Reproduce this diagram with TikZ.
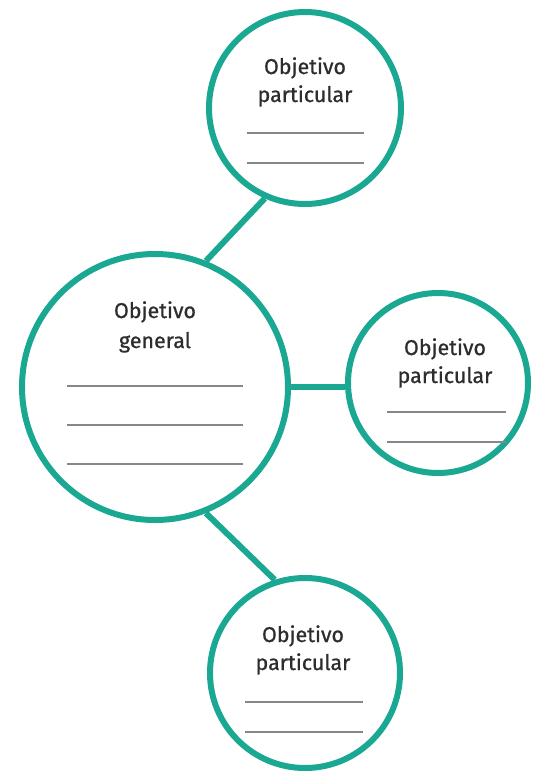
\documentclass[tikz,border=0pt]{standalone}
\usepackage{fontspec}
\setmainfont{Fira Sans}
\newfontfamily\lblfont{Fira Sans}[FakeBold=0.8]
\definecolor{tealc}{RGB}{27,168,146}
\definecolor{txtc}{RGB}{45,45,45}
\definecolor{blankc}{RGB}{135,135,135}
\begin{document}
\begin{tikzpicture}[x=1bp,y=-1bp,
  bubble/.style={circle,draw=tealc,line width=6bp,fill=white,inner sep=0pt},
  link/.style={draw=tealc,line width=6bp},
  lbl/.style={text=txtc,font=\lblfont\fontsize{21.5}{24}\selectfont,anchor=base,inner sep=0pt},
  blankline/.style={draw=blankc,line width=1.6bp}]
\useasboundingbox (0,0) rectangle (534,771);
% circles
\node[bubble,minimum size=266bp] (main) at (155,387) {};
\node[bubble,minimum size=192bp] (top) at (305,108) {};
\node[bubble,minimum size=180bp] (right) at (438,383) {};
\node[bubble,minimum size=190bp] (bottom) at (305,673) {};
% connectors
\draw[link] (main.68) -- (top.246);
\draw[link] (main.east) -- (main.east -| right.west);
\draw[link] (main.292) -- (bottom.108);
% texts
\node[lbl] (topa) at (305,74) {Objetivo};
\node[lbl] (topb) at (305,102) {particular};
\node[lbl] (maina) at (155,318) {Objetivo};
\node[lbl] (mainb) at (155,348) {general};
\node[lbl] (righta) at (445,355) {Objetivo};
\node[lbl] (rightb) at (445,383) {particular};
\node[lbl] (bota) at (303,642) {Objetivo};
\node[lbl] (botb) at (303,670) {particular};
% blank lines
\draw[blankline] (247,133) -- (364,133);
\draw[blankline] (247,163) -- (364,163);
\draw[blankline] (67,386) -- (243,386);
\draw[blankline] (67,425) -- (243,425);
\draw[blankline] (67,464) -- (243,464);
\draw[blankline] (387,412) -- (506,412);
\draw[blankline] (387,442) -- (506,442);
\draw[blankline] (245,702) -- (363,702);
\draw[blankline] (245,732) -- (363,732);
\end{tikzpicture}
\end{document}
